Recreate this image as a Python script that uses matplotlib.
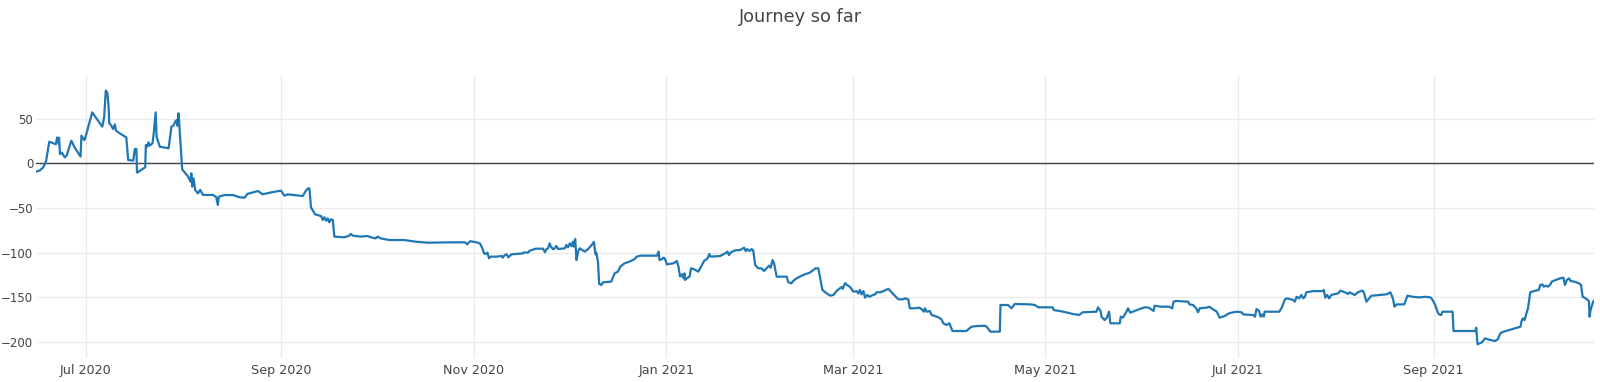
## Journey so far - running total over time ##

import numpy as np
import pandas as pd
import matplotlib
matplotlib.use('Agg')
from matplotlib import pyplot as plt
import matplotlib.dates as mdates

start = '2020-07-01'   # day 0

# days since start
days = [-15.7, -14.6, -13.9, -13.4, -12.5, -11.5, -9.4, -9.0, -8.5, -8.4,
        -8.1, -7.5, -6.6, -6.0, -4.5, -3.6, -1.6, -1.3, -0.4, -0.2,
        2.1, 5.3, 5.9, 6.4, 6.9, 7.3, 7.5, 7.8, 8.2, 8.7,
        9.3, 9.6, 10.8, 12.9, 13.5, 15.1, 15.6, 16.1, 16.3, 18.9,
        19.1, 19.5, 19.9, 20.3, 21.2, 21.6, 22.2, 22.5, 23.5, 26.3,
        27.2, 27.9, 28.4, 28.9, 29.1, 29.4, 29.6, 30.6, 32.5, 33.2,
        33.5, 33.8, 34.2, 34.7, 35.6, 36.3, 37.2, 40.3, 40.9, 41.4,
        41.9, 42.2, 44.0, 46.7, 48.8, 50.4, 51.2, 54.6, 56.1, 58.8,
        61.9, 63.0, 64.0, 68.8, 69.8, 70.5, 70.9, 71.4, 71.9, 72.7,
        74.6, 75.1, 75.6, 76.2, 76.7, 77.2, 77.7, 78.3, 78.8, 81.9,
        83.5, 84.0, 84.6, 87.2, 89.3, 90.4, 91.9, 92.5, 93.5, 96.2,
        100.9, 104.6, 108.3,
        115.4, 120.2, 120.9, 121.8, 123.3, 124.9, 125.7, 126.2, 126.8, 127.3,
        127.8, 128.3, 130.2, 131.8, 132.1, 132.8, 133.4, 133.9, 134.9, 136.5,
        138.6, 138.9, 140.1, 140.7, 142.6, 144.9, 145.5, 146.0, 146.5, 147.0,
        147.4, 148.1, 148.6, 149.1, 149.7, 151.8, 152.3, 152.8, 153.4, 153.9,
        154.4, 154.6, 155.1, 155.5, 156.0, 156.5, 158.1, 159.1, 160.3, 161.0,
        161.5, 161.8, 162.3, 162.7, 163.4, 163.9, 166.5, 167.6, 168.6, 169.4,
        170.7, 172.3,
        173.8, 174.6, 175.7, 181.0, 181.5, 181.8, 182.5, 183.1, 183.6, 184.1,
        186.2, 187.3, 187.8, 188.3, 188.9, 189.4, 189.7, 189.9, 190.4, 191.3,
        191.8, 192.6, 194.1, 195.9, 197.0, 197.6, 198.0, 201.0, 202.6, 203.3,
        203.8, 204.4, 205.7, 207.3, 208.6, 209.1, 209.6, 210.3, 211.0, 211.5,
        212.1, 213.1, 214.1, 214.9, 215.7, 216.5, 217.0, 217.6, 218.1, 218.9,
        222.1, 222.6, 223.6, 224.1, 225.2, 227.3, 229.4, 231.2, 232.1, 232.6,
        233.4, 234.7,
        235.8, 236.9, 237.9, 239.0, 239.5, 239.8, 240.6, 241.1, 242.2, 243.2,
        244.3, 244.8, 245.3, 245.8, 246.4, 246.9, 247.6, 248.3, 249.4, 250.1,
        250.6, 251.7, 252.7, 254.3, 255.9, 257.5, 258.8, 259.6, 260.6, 261.1,
        262.7, 264.1, 265.1, 265.5, 265.9, 266.4, 267.4, 268.0, 269.0, 270.4,
        271.1, 271.7, 272.7, 273.6, 274.6, 279.0, 280.6, 282.2, 284.8, 285.4,
        286.6, 289.6, 289.8, 292.2, 293.3, 294.3, 299.1,
        300.7, 301.8, 306.3, 306.7, 309.7, 312.8, 314.7, 315.8, 320.2, 320.7,
        321.5, 321.8, 322.8, 323.5, 324.2, 324.6, 327.6, 327.9, 328.6, 329.1,
        329.7, 330.2, 330.9, 332.3, 333.9, 335.5, 336.8, 338.3, 338.6, 340.7,
        343.2, 344.2, 344.6, 345.5, 349.2, 349.7, 350.8, 351.8, 352.4, 352.9,
        355.0, 356.0, 356.6, 358.3, 359.2, 360.8, 362.2,
        363.5, 364.8, 366.2, 366.7, 369.8, 370.4, 370.9, 371.7, 372.2, 372.8,
        373.2, 373.5, 378.1, 378.8, 379.9, 380.6, 382.5, 383.0, 383.6, 384.4,
        385.1, 385.7, 386.2, 386.7, 388.8, 391.8, 392.2, 392.7, 393.3, 393.9,
        394.6, 396.8, 397.5, 398.9, 399.9, 400.4, 402.0, 403.0, 404.4, 404.9,
        405.7, 407.3, 409.9, 412.1, 413.3, 414.1, 414.6, 415.3, 417.7, 418.7,
        420.4, 422.3,
        424.4, 426.0, 426.7, 427.5, 428.3, 428.7, 429.4, 429.8, 433.0, 433.3,
        440.2, 440.5, 440.9, 442.3, 443.3, 444.9, 446.5, 447.4, 448.1, 449.2,
        454.5, 454.8, 455.2, 455.8, 456.3, 456.9, 457.6, 458.7, 460.3, 460.8,
        461.4, 461.9, 462.6, 463.2, 463.9, 464.4, 465.7, 467.1, 468.1, 468.6,
        469.2, 469.9, 470.4, 471.6, 473.1, 473.7, 474.2, 474.8, 475.9, 476.2,
        476.4, 476.7, 476.9, 477.5, 477.8]

values = [-9.3, -8.2, -6.0, -4.5, 2.6, 24.2, 21.3, 29.0, 22.4, 28.7,
          10.4, 11.9, 6.7, 8.6, 25.4, 18.6, 7.5, 31.0, 26.0, 27.0,
          57.0, 41.0, 52.0, 81.3, 79.0, 63.0, 44.7, 43.6, 41.8, 38.4,
          43.6, 36.5, 33.6, 29.0, 3.7, 3.0, 16.0, 16.0, -10.4, -4.5,
          20.5, 18.6, 23.5, 19.8, 22.4, 33.6, 57.0, 29.8, 18.6, 16.8,
          41.0, 42.5, 46.6, 48.5, 42.0, 56.0, 48.5, -6.7, -15.0, -20.5,
          -11.2, -26.0, -16.8, -29.8, -33.6, -29.8, -35.4, -35.4, -36.5, -38.0,
          -46.6, -37.3, -35.5, -35.5, -38.0, -38.4, -34.3, -31.0, -34.7, -32.5,
          -30.6, -36.2, -34.7, -36.6, -30.6, -28.0, -28.0, -49.3, -52.2, -57.1,
          -59.0, -63.4, -60.4, -64.2, -61.6, -66.0, -62.7, -63.4, -82.0, -82.8,
          -81.0, -79.0, -80.9, -82.0, -81.3, -82.8, -84.0, -82.0, -84.0, -85.8,
          -85.8, -87.7, -88.8,
          -88.4, -88.4, -90.6, -87.2, -88.0, -89.5, -95.1, -100.7, -101.4, -100.0,
          -106.3, -104.4, -104.4, -103.7, -105.5, -102.6, -101.8, -105.2, -101.8, -101.4,
          -100.7, -99.6, -100.0, -97.7, -95.5, -95.5, -99.6, -95.9, -95.1, -89.5,
          -93.2, -96.2, -95.1, -92.5, -95.9, -95.1, -91.4, -94.0, -89.5, -92.5,
          -87.6, -93.2, -84.7, -108.2, -98.8, -95.1, -98.8, -96.2, -91.4, -88.0,
          -101.8, -100.0, -110.0, -135.0, -136.1, -133.1, -132.4, -123.0, -121.2, -115.6,
          -111.9, -110.0,
          -107.4, -104.4, -103.3, -103.3, -98.8, -108.2, -107.4, -105.5, -107.4, -113.0,
          -111.9, -109.3, -115.6, -126.8, -124.2, -128.7, -123.1, -130.5, -128.7, -126.8,
          -117.5, -118.2, -121.2, -109.3, -106.3, -101.4, -104.4, -103.7, -100.7, -98.8,
          -102.6, -99.6, -97.4, -97.0, -94.4, -98.2, -95.9, -98.2, -95.9, -97.7,
          -113.8, -117.5, -117.5, -120.5, -117.5, -114.5, -116.8, -108.2, -112.0, -126.8,
          -126.8, -133.1, -134.3, -131.7, -128.7, -124.9, -122.3, -117.5, -117.5, -126.8,
          -141.7, -145.4,
          -148.0, -147.3, -142.8, -139.6, -138.5, -140.4, -134.0, -135.8, -138.5, -143.6,
          -143.0, -145.6, -141.7, -146.6, -143.0, -150.3, -147.3, -149.3, -147.3, -146.6,
          -144.3, -144.3, -143.0, -140.4, -146.6, -152.2, -152.2, -151.1, -152.2, -162.2,
          -162.2, -161.5, -164.1, -166.0, -162.2, -166.0, -165.2, -169.7, -170.8, -172.7,
          -174.6, -179.0, -180.9, -179.0, -187.6, -187.6, -182.8, -182.1, -181.7, -182.8,
          -188.3, -188.3, -158.5, -158.5, -162.2, -157.4, -157.8,
          -158.5, -161.1, -161.1, -164.1, -166.0, -168.6, -169.7, -166.7, -166.0, -161.1,
          -165.2, -171.6, -175.4, -172.7, -166.0, -179.0, -179.0, -171.6, -172.7, -169.7,
          -166.0, -162.2, -167.1, -165.2, -163.0, -161.1, -161.5, -165.2, -159.3, -160.4,
          -160.4, -162.2, -154.8, -154.0, -154.8, -157.8, -158.5, -162.2, -166.7, -162.2,
          -161.5, -160.4, -162.2, -166.0, -172.7, -170.8, -167.8,
          -166.7, -166.0, -166.7, -169.0, -169.7, -171.6, -163.0, -165.2, -171.6, -169.0,
          -171.6, -166.0, -166.0, -162.2, -152.2, -151.1, -152.9, -154.8, -149.3, -151.1,
          -147.3, -151.1, -149.3, -144.3, -143.0, -143.0, -141.7, -150.3, -147.3, -151.1,
          -147.3, -145.4, -142.4, -144.3, -146.2, -144.3, -147.3, -144.3, -142.4, -144.3,
          -154.8, -148.1, -147.3, -146.6, -144.3, -151.1, -160.4, -157.8, -157.8, -148.1,
          -149.3, -150.0,
          -149.3, -150.0, -153.0, -158.5, -166.7, -169.0, -169.7, -166.0, -166.0, -187.6,
          -187.6, -183.9, -202.5, -200.3, -195.8, -197.6, -198.8, -196.6, -190.2, -188.3,
          -182.8, -177.2, -173.5, -175.4, -169.0, -162.2, -144.3, -143.0, -141.7, -136.1,
          -135.4, -138.0, -136.9, -138.0, -136.1, -132.4, -130.5, -128.7, -127.9, -136.1,
          -130.5, -128.7, -131.7, -132.4, -134.3, -136.1, -149.3, -150.3, -153.0, -154.8,
          -171.6, -164.1, -162.2, -154.8, -153.7]

yticks = [-200, -150, -100, -50, 0, 50]

dates = pd.Timestamp(start) + pd.to_timedelta(days, unit='D')

plt.rcParams['font.family'] = ['DejaVu Sans']

fig = plt.figure(figsize=(16, 3.82), dpi=100)
ax = fig.add_axes([36/1600, 24/382, 1558/1600, 283/382])

ax.plot(dates, values, color='#1f77b4', lw=1.6, zorder=3)
ax.axhline(0, color='#444444', lw=1.0, zorder=2)

ax.set_xlim(dates[0], dates[-1])
ax.set_ylim(-217.8, 98.8)
ax.set_yticks(yticks)
ax.xaxis.set_major_locator(mdates.MonthLocator(bymonth=[1, 3, 5, 7, 9, 11]))
ax.xaxis.set_major_formatter(mdates.DateFormatter('%b %Y'))

ax.grid(True, color='#ebebeb', lw=1.0, zorder=0)
ax.tick_params(axis='x', length=0, labelsize=9.2, colors='#444444', pad=4)
ax.tick_params(axis='y', length=0, labelsize=8.5, colors='#444444', pad=2)
for s in ax.spines.values():
    s.set_visible(False)

fig.suptitle('Journey so far', x=0.5, y=1 - 17/382, va='center',
             fontsize=12.8, color='#444444')

plt.savefig('out.png', dpi=100)
